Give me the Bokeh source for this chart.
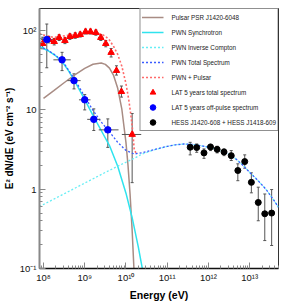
import numpy as np
from bokeh.plotting import figure
from bokeh.models import (Range1d, FixedTicker, CustomJSTickFormatter, Legend, LegendItem,
                          Whisker, TeeHead, ColumnDataSource)
from bokeh.embed import file_html
from bokeh.resources import INLINE

# ---------------- tick labels ----------------
x_tick_exp = [8, 9, 10, 11, 12, 13]
y_tick_values = [0.1, 1, 10, 100]

# ---------------- Fermi-LAT 5 years total spectrum (red triangles) ----------------
lat_logE = [7.98, 8.13, 8.26, 8.38, 8.52, 8.64, 8.77, 8.89, 9.02, 9.14, 9.27, 9.39, 9.51, 9.64, 9.77, 9.89, 10.15]
lat_logE_lo = [7.92, 8.07, 8.20, 8.32, 8.46, 8.58, 8.71, 8.83, 8.96, 9.08, 9.21, 9.33, 9.45, 9.58, 9.71, 9.83, 9.90]
lat_logE_hi = [8.04, 8.19, 8.32, 8.44, 8.58, 8.70, 8.83, 8.95, 9.08, 9.20, 9.33, 9.45, 9.57, 9.70, 9.83, 9.95, 10.37]
lat_F = [68.5, 77.0, 72.6, 81.6, 74.8, 84.0, 86.5, 89.0, 97.0, 97.0, 94.4, 81.6, 68.5, 52.9, 31.3, 17.0, 4.9]
lat_F_lo = [59.0, 70.0, 66.0, 75.0, 68.5, 77.5, 80.0, 83.0, 90.5, 90.5, 87.5, 75.0, 62.5, 46.5, 27.5, 14.5, 1.21]
lat_F_hi = [82.6, 84.5, 79.5, 88.5, 81.5, 91.0, 93.5, 95.5, 104.0, 104.0, 101.5, 88.5, 75.0, 59.5, 36.0, 20.0, 9.0]

# ---------------- Fermi-LAT 5 years off-pulse spectrum (blue circles) ----------------
off_logE = [8.08, 8.45, 8.74, 9.00, 9.22, 9.56]
off_logE_lo = [7.94, 8.24, 8.58, 8.86, 9.06, 9.34]
off_logE_hi = [8.24, 8.66, 8.90, 9.14, 9.38, 9.82]
off_F = [77.0, 42.8, 23.4, 13.4, 7.6, 5.6]
off_F_lo = [34.0, 31.3, 18.4, 10.0, 5.5, 3.37]
off_F_hi = [121.0, 53.2, 28.5, 15.6, 10.3, 7.7]

# ---------------- HESS J1420-608 + HESS J1418-609 (black circles) ----------------
hess_logE = [11.557, 11.715, 11.892, 12.050, 12.211, 12.378, 12.553, 12.713, 12.880, 13.041, 13.208, 13.366, 13.533]
hess_F = [3.38, 3.35, 2.87, 3.41, 3.18, 2.95, 2.65, 1.72, 2.23, 1.22, 0.68, 0.49, 0.50]
hess_F_lo = [2.71, 2.92, 2.45, 3.07, 2.87, 2.65, 2.30, 1.28, 1.84, 0.90, 0.40, 0.225, 0.195]
hess_F_hi = [3.90, 3.72, 3.22, 3.68, 3.48, 3.22, 3.07, 2.09, 2.71, 1.61, 1.06, 0.87, 0.99]

# ---------------- model curves ----------------
pulsar_logE = [8.0, 8.25, 8.5, 8.75, 9.0, 9.2, 9.4, 9.5, 9.6, 9.7, 9.8, 9.9, 10.0, 10.05, 10.1, 10.15, 10.2, 10.25]
pulsar_F = [13.96, 17.5, 22.0, 27.4, 33.4, 37.6, 39.1, 37.5, 33.6, 27.2, 18.7, 10.2, 3.87, 1.98, 0.855, 0.301, 0.083, 0.017]

sync_logE = [7.9, 8.1, 8.3, 8.45, 8.6, 8.75, 9.0, 9.2, 9.4, 9.6, 9.8, 10.0, 10.15, 10.3, 10.45, 10.6]
sync_F = [63.1, 56.2, 47.9, 40.7, 31.6, 23.4, 13.5, 8.51, 5.50, 3.55, 1.95, 0.891, 0.437, 0.186, 0.0708, 0.0251]

ic_logE = [7.9, 8.5, 9.0, 9.5, 9.8, 10.0, 10.2, 10.4, 10.7, 11.0, 11.2, 11.4, 11.6, 11.8, 12.0,
           12.2, 12.4, 12.6, 12.8, 13.0, 13.2, 13.4, 13.6, 13.7]
ic_F = [0.603, 0.875, 1.194, 1.629, 1.950, 2.188, 2.455, 2.786, 3.162, 3.467, 3.631, 3.715, 3.673, 3.548, 3.388,
        3.199, 2.917, 2.570, 2.089, 1.633, 1.288, 0.989, 0.708, 0.589]

total_logE = [7.9, 8.1, 8.3, 8.5, 8.75, 9.0, 9.2, 9.4, 9.6, 9.8, 10.0, 10.2, 10.4, 10.7, 11.0, 11.2, 11.4, 11.6,
              11.8, 12.0, 12.2, 12.4, 12.6, 12.8, 13.0, 13.2, 13.4, 13.6, 13.7]
total_F = [63.7, 56.9, 48.6, 38.5, 24.5, 14.7, 9.86, 7.03, 5.28, 3.90, 3.08, 2.78, 2.89, 3.17, 3.47, 3.63, 3.72, 3.67,
           3.55, 3.39, 3.20, 2.92, 2.57, 2.09, 1.63, 1.29, 0.99, 0.71, 0.59]

pwnpsr_logE = [7.9, 8.1, 8.25, 8.45, 8.65, 8.85, 9.05, 9.25, 9.4, 9.5, 9.6, 9.7, 9.8, 9.9, 10.0, 10.07, 10.12,
               10.17, 10.2, 10.25]
pwnpsr_F = [91.2, 85.1, 82.2, 85.1, 88.3, 90.2, 90.8, 91.2, 90.2, 85.1, 75.9, 63.1, 50.1, 35.5, 21.4, 13.2, 8.51,
            5.01, 3.16, 2.82]


def e(v):
    return np.power(10.0, np.array(v, dtype=float))


FONT = "Liberation Sans"

p = figure(width=289, height=307, x_axis_type="log", y_axis_type="log",
           x_range=Range1d(8e7, 5e13), y_range=Range1d(0.1, 190),
           output_backend="svg", toolbar_location=None,
           min_border_left=36, min_border_right=11, min_border_top=8, min_border_bottom=39,
           background_fill_color="white", border_fill_color="white")

p.xgrid.visible = False
p.ygrid.visible = False
p.outline_line_color = "#333333"
p.outline_line_width = 1

# tickers
x_major = [10.0 ** k for k in x_tick_exp]
x_minor = [m * 10.0 ** k for k in range(7, 14) for m in range(2, 10)]
y_minor = [m * 10.0 ** k for k in range(-1, 3) for m in range(2, 10)]
p.xaxis.ticker = FixedTicker(ticks=x_major, minor_ticks=x_minor)
p.yaxis.ticker = FixedTicker(ticks=y_tick_values, minor_ticks=y_minor)

fmt_code = r"""
const sup = {"-": "\u207B", "0": "\u2070", "1": "\u00B9", "2": "\u00B2", "3": "\u00B3",
             "4": "\u2074", "5": "\u2075", "6": "\u2076", "7": "\u2077", "8": "\u2078", "9": "\u2079"};
const e = Math.round(Math.log10(tick));
if (e === 0) return "1";
if (e === 1) return "10";
return "10" + String(e).split("").map(c => sup[c]).join("");
"""
fmt = CustomJSTickFormatter(code=fmt_code)
p.xaxis.formatter = fmt
p.yaxis.formatter = fmt

for ax in (p.xaxis, p.yaxis):
    ax.major_tick_in = 6
    ax.major_tick_out = 0
    ax.minor_tick_in = 3
    ax.minor_tick_out = 0
    ax.major_label_text_font = FONT
    ax.major_label_text_font_size = "9.5px"
    ax.major_label_text_color = "#111111"
    ax.major_label_standoff = 3
    ax.axis_label_text_font = FONT
    ax.axis_label_text_font_style = "bold"
    ax.axis_label_text_color = "#000000"

p.yaxis.axis_line_color = "#888888"
p.yaxis.axis_line_width = 2
p.yaxis.major_tick_line_color = "#888888"
p.yaxis.minor_tick_line_color = "#888888"
p.xaxis.axis_line_color = "#111111"
p.xaxis.axis_line_width = 1.5
p.xaxis.major_tick_line_color = "#888888"
p.xaxis.minor_tick_line_color = "#888888"

p.xaxis.axis_label = "Energy (eV)"
p.xaxis.axis_label_text_font_size = "10.5px"
p.xaxis.axis_label_standoff = 3

p.yaxis.axis_label = "E\u00B2 dN/dE (eV cm\u207B\u00B2 s\u207B\u00B9)"
p.yaxis.axis_label_text_font_size = "10px"
p.yaxis.axis_label_standoff = 2

# ---------- curves ----------
r_psr = p.line(e(pulsar_logE), pulsar_F, line_color="#a88c84", line_width=1.5)
r_sync = p.line(e(sync_logE), sync_F, line_color="#2fe3ee", line_width=1.5)
r_ic = p.line(e(ic_logE), ic_F, line_color="#66eef5", line_width=1.3, line_dash="2 2")
r_pp = p.line(e(pwnpsr_logE), pwnpsr_F, line_color="#ff6a6a", line_width=1.6, line_dash="2 2")
r_tot = p.line(e(total_logE), total_F, line_color="#3a5cff", line_width=1.3, line_dash="2 2")

ERR = "#555555"


def errbars(logE, F_lo, F_hi, cap):
    src = ColumnDataSource(dict(x=e(logE), lo=F_lo, hi=F_hi))
    w = Whisker(source=src, base="x", lower="lo", upper="hi", dimension="height",
                line_color=ERR, line_width=1,
                lower_head=TeeHead(size=cap, line_color=ERR, line_width=1),
                upper_head=TeeHead(size=cap, line_color=ERR, line_width=1))
    p.add_layout(w)


errbars(lat_logE, lat_F_lo, lat_F_hi, 3)
errbars(off_logE, off_F_lo, off_F_hi, 3)
errbars(hess_logE, hess_F_lo, hess_F_hi, 3)
p.segment(x0=e(lat_logE_lo), y0=lat_F, x1=e(lat_logE_hi), y1=lat_F, line_color=ERR, line_width=1)
p.segment(x0=e(off_logE_lo), y0=off_F, x1=e(off_logE_hi), y1=off_F, line_color=ERR, line_width=1)

r_lat = p.scatter(e(lat_logE), lat_F, marker="triangle", size=6.5, fill_color="#ff0000", line_color="#ff0000")
r_off = p.scatter(e(off_logE), off_F, marker="circle", size=6.5, fill_color="#0000ff", line_color="#0000ff")
r_hess = p.scatter(e(hess_logE), hess_F, marker="circle", size=6, fill_color="#000000", line_color="#000000")

legend = Legend(items=[
    LegendItem(label="Pulsar PSR J1420-6048", renderers=[r_psr]),
    LegendItem(label="PWN Synchrotron", renderers=[r_sync]),
    LegendItem(label="PWN Inverse Compton", renderers=[r_ic]),
    LegendItem(label="PWN Total Spectrum", renderers=[r_tot]),
    LegendItem(label="PWN + Pulsar", renderers=[r_pp]),
    LegendItem(label="LAT 5 years total spectrum", renderers=[r_lat]),
    LegendItem(label="LAT 5 years off-pulse spectrum", renderers=[r_off]),
    LegendItem(label="HESS J1420-608 + HESS J1418-609", renderers=[r_hess]),
], location="top_right")
legend.margin = 0
legend.padding = 1
legend.spacing = 1
legend.glyph_width = 22
legend.glyph_height = 14
legend.label_height = 14
legend.label_standoff = 8
legend.label_text_font = FONT
legend.label_text_font_size = "6.3px"
legend.label_text_color = "#222222"
legend.border_line_color = "#222222"
legend.border_line_width = 1
legend.background_fill_color = "white"
legend.background_fill_alpha = 1.0
p.add_layout(legend)

with open("out.html", "w", encoding="utf-8") as f:
    f.write(file_html(p, INLINE))
